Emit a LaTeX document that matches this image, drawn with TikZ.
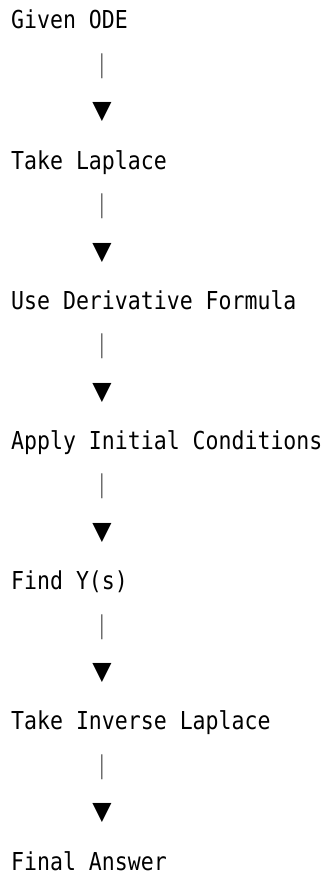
\documentclass[tikz,border=0pt]{standalone}
\usepackage{fontspec}
\newfontfamily\monofont[FakeStretch=0.872]{DejaVu Sans Mono}
\newfontfamily\symfont{DejaVu Sans}
\begin{document}
\begin{tikzpicture}[x=1pt,y=1pt,
  steptext/.style={anchor=base west, inner sep=0pt, font=\monofont\fontsize{24.7}{24.7}\selectfont},
  barglyph/.style={anchor=center, inner sep=0pt, text=black!60, font=\monofont\fontsize{21}{21}\selectfont},
  tipglyph/.style={anchor=center, inner sep=0pt, font=\symfont\fontsize{25}{25}\selectfont}]
\useasboundingbox (0,0) rectangle (325,875);
\foreach \i/\t in {0/Given ODE,1/Take Laplace,2/Use Derivative Formula,3/Apply Initial Conditions,4/Find Y(s),5/Take Inverse Laplace,6/Final Answer}{
  \node[steptext] (t\i) at (11,{875-29-140.2*\i}) {\t};
}
\foreach \i in {0,...,5}{
  \node[barglyph] (b\i) at (102,{875-29-37-140.2*\i}) {│};
  \node[tipglyph] (a\i) at (102,{875-29-83.5-140.2*\i}) {▼};
}
\end{tikzpicture}
\end{document}
